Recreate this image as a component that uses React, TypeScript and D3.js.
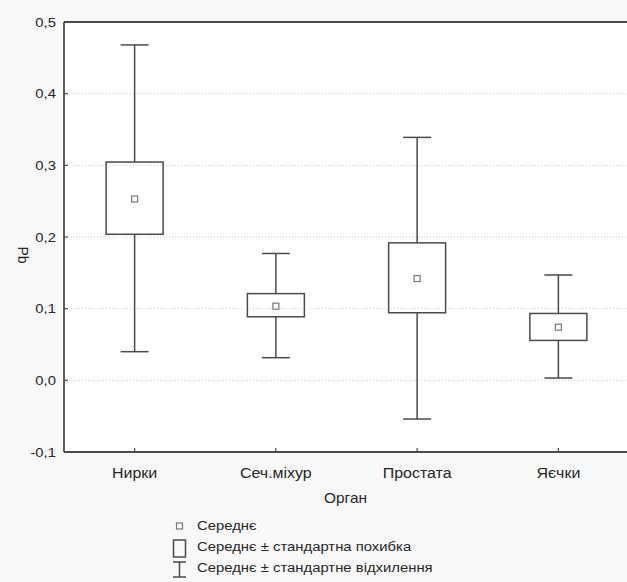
import React from "react";
import * as d3 from "d3";

const categories = ["Нирки", "Сеч.міхур", "Простата", "Яєчки"];
const means = [0.253, 0.1035, 0.142, 0.0742];
const seLow = [0.2038, 0.0887, 0.0943, 0.0557];
const seHigh = [0.3046, 0.121, 0.1918, 0.0933];
const sdLow = [0.040, 0.0316, -0.054, 0.0032];
const sdHigh = [0.468, 0.177, 0.339, 0.147];
const yTicks = [-0.1, 0.0, 0.1, 0.2, 0.3, 0.4, 0.5];
const legendLabels = ["Середнє", "Середнє ± стандартна похибка", "Середнє ± стандартне відхилення"];

const W = 627, H = 582;
const left = 64, right = 629, top = 22, bottom = 452;

const font = "'Liberation Sans', Arial, sans-serif";

function T(props: { x: number; y: number; anchor?: string; size: number; children: React.ReactNode }) {
  return (
    <text
      transform={`translate(${props.x},${props.y}) scale(1.1,1)`}
      dy="0.35em"
      textAnchor={props.anchor || "start"}
      fontFamily={font}
      fontSize={props.size}
      fill="#262626"
    >
      {props.children}
    </text>
  );
}

export default function App() {
  const x = d3.scaleBand<string>().domain(categories).range([left, right]).padding(0);
  const y = d3.scaleLinear().domain([-0.1, 0.5]).range([bottom, top]);
  const fmt = (v: number) => v.toFixed(1).replace(".", ",");
  const stroke = "#4a4a4a";
  const boxW = 57, capW = 28, meanS = 6;

  return (
    <svg width={W} height={H} style={{ position: "absolute", left: 0, top: 0, display: "block" }}>
      <rect x={0} y={0} width={W} height={H} fill="#f8f8f8" />
      <rect x={left} y={top} width={W - left} height={bottom - top} fill="#ffffff" />
      {yTicks.filter(t => t > -0.1 && t < 0.5).map(t => (
        <line key={"g" + t} x1={left} x2={W} y1={y(t)} y2={y(t)} stroke="#cccccc" strokeWidth={1} strokeDasharray="1,2" />
      ))}
      {yTicks.map(t => (
        <g key={"t" + t}>
          <line x1={left} x2={left + 4} y1={y(t)} y2={y(t)} stroke={stroke} strokeWidth={1.2} />
          <T x={56} y={y(t)} anchor="end" size={13.5}>{fmt(t)}</T>
        </g>
      ))}
      {categories.map((c, i) => {
        const cx = (x(c) as number) + x.bandwidth() / 2;
        return (
          <g key={c}>
            <line x1={cx} x2={cx} y1={bottom} y2={bottom - 4} stroke={stroke} strokeWidth={1.2} />
            <T x={cx} y={473} anchor="middle" size={14.5}>{c}</T>
            <line x1={cx} x2={cx} y1={y(sdHigh[i])} y2={y(seHigh[i])} stroke={stroke} strokeWidth={1.5} />
            <line x1={cx} x2={cx} y1={y(seLow[i])} y2={y(sdLow[i])} stroke={stroke} strokeWidth={1.5} />
            <line x1={cx - capW / 2} x2={cx + capW / 2} y1={y(sdHigh[i])} y2={y(sdHigh[i])} stroke={stroke} strokeWidth={1.5} />
            <line x1={cx - capW / 2} x2={cx + capW / 2} y1={y(sdLow[i])} y2={y(sdLow[i])} stroke={stroke} strokeWidth={1.5} />
            <rect x={cx - boxW / 2} y={y(seHigh[i])} width={boxW} height={y(seLow[i]) - y(seHigh[i])} fill="none" stroke={stroke} strokeWidth={1.5} />
            <rect x={cx - meanS / 2} y={y(means[i]) - meanS / 2} width={meanS} height={meanS} fill="#fff" stroke="#777" strokeWidth={1.2} />
          </g>
        );
      })}
      <line x1={left} x2={W} y1={top} y2={top} stroke={stroke} strokeWidth={1.8} />
      <line x1={left} x2={W} y1={bottom} y2={bottom} stroke={stroke} strokeWidth={1.8} />
      <line x1={left} x2={left} y1={top} y2={bottom} stroke={stroke} strokeWidth={1.8} />
      <text transform={`translate(23,255) rotate(90)`} textAnchor="middle" dy="0.35em" fontFamily={font} fontSize={14} fill="#262626">Pb</text>
      <T x={(left + W) / 2} y={498} anchor="middle" size={14}>Орган</T>
      <rect x={176.5} y={523} width={6} height={6} fill="#fff" stroke="#777" strokeWidth={1.2} />
      <rect x={173.5} y={540} width={12} height={17} fill="none" stroke={stroke} strokeWidth={1.5} />
      <line x1={179.5} x2={179.5} y1={562} y2={577} stroke={stroke} strokeWidth={1.5} />
      <line x1={173} x2={186} y1={562} y2={562} stroke={stroke} strokeWidth={1.5} />
      <line x1={173} x2={186} y1={577} y2={577} stroke={stroke} strokeWidth={1.5} />
      {legendLabels.map((l, i) => (
        <T key={l} x={197} y={525 + i * 21} size={13.5}>{l}</T>
      ))}
    </svg>
  );
}
